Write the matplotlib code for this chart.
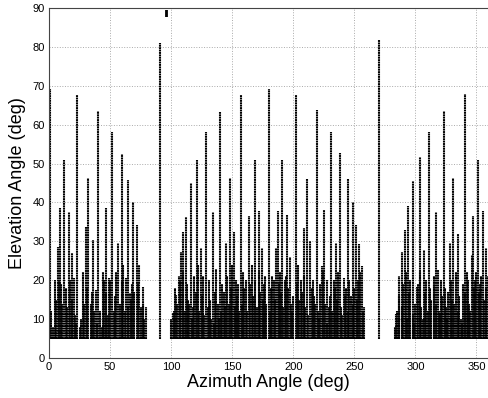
import numpy as np
import matplotlib
matplotlib.use('Agg')
import matplotlib.pyplot as plt

plt.rcParams['font.family'] = ['Liberation Sans', 'DejaVu Sans']

# main visible columns: azimuth (deg) and top elevation (deg)
peak_az = [0.8, 7.1, 9.0, 12.5, 16.3, 18.5, 20.7, 23.3, 30.0, 32.3, 36.4, 38.3,
           40.5, 46.5, 49.2, 51.9, 56.6, 59.4, 63.4, 64.8, 66.7, 68.9, 71.9,
           74.1, 76.8, 79.2,
           90.6,
           101.6, 104.3, 106.5, 108.3, 109.5, 112.5, 116.6, 121.5, 124.8, 128.9,
           134.3, 140.3, 145.2, 148.5, 151.2, 157.5, 164.0, 168.4, 171.7, 174.4,
           179.8, 186.0, 187.4, 191.0, 195.0, 197.0, 201.9, 208.7, 211.4, 213.8,
           219.3, 223.7, 225.6, 227.5, 231.0, 235.1, 238.6, 241.9, 244.7, 248.7,
           251.5, 254.1, 256.0, 258.3,
           270.6,
           284.2, 286.4, 288.8, 291.5, 294.2, 297.8, 301.0, 303.7, 307.3, 311.4,
           314.9, 316.8, 318.7, 323.1, 328.3, 331.0, 334.6, 340.6, 346.0, 347.6,
           351.4, 355.5, 357.7, 359.2]
peak_el = [69.3, 28.6, 38.5, 51.0, 37.6, 27.0, 20.5, 67.6, 33.8, 46.3, 30.3, 17.5,
           63.6, 38.5, 20.5, 58.0, 29.5, 52.4, 20.5, 45.9, 16.7, 40.2, 34.2,
           23.9, 18.3, 13.2,
           81.0,
           11.5, 16.3, 21.0, 27.2, 32.5, 36.3, 45.1, 51.0, 28.2, 58.0,
           37.6, 63.2, 29.5, 46.3, 32.5, 67.6, 36.5, 51.0, 37.9, 28.2,
           69.1, 28.2, 37.9, 51.0, 36.9, 26.0, 67.6, 33.4, 46.0, 30.0,
           63.8, 23.7, 38.0, 20.0, 58.2, 29.5, 52.8, 20.5, 46.0, 40.2,
           34.2, 29.3, 23.7, 13.2,
           81.7,
           11.3, 21.0, 27.3, 33.0, 39.1, 45.6, 18.3, 51.6, 27.7, 58.2,
           18.7, 37.6, 22.6, 63.4, 29.5, 46.3, 32.0, 67.8, 26.6, 36.5,
           51.0, 37.9, 28.2, 21.0]

# shorter columns that fill the dense band near the bottom
low_az = [2, 3, 5, 6, 8, 10, 11, 14, 15, 17, 19, 21, 22, 25, 26, 28, 29, 31, 34,
          35, 37, 39, 42, 43, 44, 45, 47, 48, 50, 53, 54, 55, 58, 60, 61, 62, 65,
          67, 68, 70, 73, 75, 77, 78,
          100, 102, 103, 105, 107, 110, 111, 113, 114, 115, 117, 118, 119, 120,
          122, 123, 125, 126, 127, 130, 131, 132, 133, 135, 136, 137, 138, 139,
          141, 142, 143, 144, 146, 147, 149, 150, 152, 153, 154, 155, 156, 158,
          159, 160, 161, 162, 165, 166, 167, 169, 170, 172, 173, 175, 176, 177,
          178, 181, 182, 183, 184, 185, 188, 189, 190, 192, 193, 194, 196, 198,
          199, 200, 203, 204, 205, 206, 207, 209, 210, 212, 215, 216, 217, 218,
          220, 221, 222, 224, 226, 228, 229, 230, 232, 233, 234, 236, 237, 239,
          240, 242, 243, 245, 246, 247, 249, 250, 252, 253, 255, 257,
          283, 285, 287, 289, 290, 292, 293, 295, 296, 298, 299, 300, 302, 304,
          305, 306, 308, 309, 310, 312, 313, 315, 317, 319, 320, 321, 322, 324,
          325, 326, 327, 329, 330, 332, 333, 335, 336, 337, 338, 339, 341, 342,
          343, 344, 345, 348, 349, 350, 352, 353, 354, 356, 358]
low_el = [12, 8, 20, 15, 20, 19, 14, 18, 13, 20, 15, 11, 9, 8, 10, 22, 14, 18, 14,
          17, 12, 9, 12, 8, 22, 20, 17, 11, 20, 12, 16, 22, 14, 20, 24, 12, 13,
          15, 19, 17, 19, 13, 14, 10,
          10, 12, 18, 14, 20, 22, 12, 19, 15, 14, 10, 13, 21, 17,
          24, 12, 16, 21, 11, 13, 20, 15, 10, 9, 17, 23, 14, 10,
          12, 19, 17, 13, 21, 14, 18, 24, 13, 20, 16, 19, 12, 14,
          22, 18, 20, 12, 19, 24, 16, 20, 13, 22, 17, 15, 19, 21,
          14, 12, 18, 21, 20, 15, 19, 22, 17, 13, 20, 21, 18, 14,
          12, 16, 19, 24, 15, 20, 17, 21, 13, 11, 18, 20, 16, 14,
          12, 10, 19, 22, 14, 9, 13, 16, 12, 20, 18, 15, 22, 13,
          11, 16, 18, 12, 20, 16, 14, 18, 15, 20, 22, 12,
          8, 12, 16, 13, 19, 22, 10, 17, 20, 11, 9, 14, 19, 22,
          13, 10, 17, 20, 12, 18, 15, 21, 14, 12, 11, 20, 16, 18,
          13, 10, 17, 20, 15, 14, 22, 12, 16, 10, 9, 19, 17, 22,
          20, 14, 12, 18, 20, 22, 17, 19, 21, 15, 18]

# small isolated trace near zenith
top_az = [96.0, 96.8]
top_lo = [87.8, 87.8]
top_hi = [89.5, 89.5]

MIN_EL = 5.0


def main():
    fig = plt.figure(figsize=(4.89, 3.98), dpi=100)
    ax = fig.add_axes([0.1002, 0.1005, 0.899, 0.8794])

    ax.vlines(low_az, MIN_EL, low_el, colors='black', linewidth=1.5,
              linestyles=(0, (1.0, 0.15)))
    ax.vlines(peak_az, MIN_EL, peak_el, colors='black', linewidth=1.5,
              linestyles=(0, (0.9, 0.25)))
    ax.vlines(top_az, top_lo, top_hi, colors='black', linewidth=1.3)

    ax.set_xlim(0, 360)
    ax.set_ylim(0, 90)
    ax.set_xticks(np.arange(0, 351, 50))
    ax.set_yticks(np.arange(0, 91, 10))
    ax.grid(True, linestyle=':', color='#aaaaaa', linewidth=0.7)
    ax.set_axisbelow(True)
    for s in ax.spines.values():
        s.set_color('#444444')
        s.set_linewidth(0.8)
    ax.tick_params(direction='in', top=True, right=True, labelsize=8, length=0, pad=3)
    ax.set_xlabel('Azimuth Angle (deg)', fontsize=13, labelpad=1)
    ax.set_ylabel('Elevation Angle (deg)', fontsize=13, labelpad=5)

    fig.savefig('out.png', dpi=100)


if __name__ == '__main__':
    main()
